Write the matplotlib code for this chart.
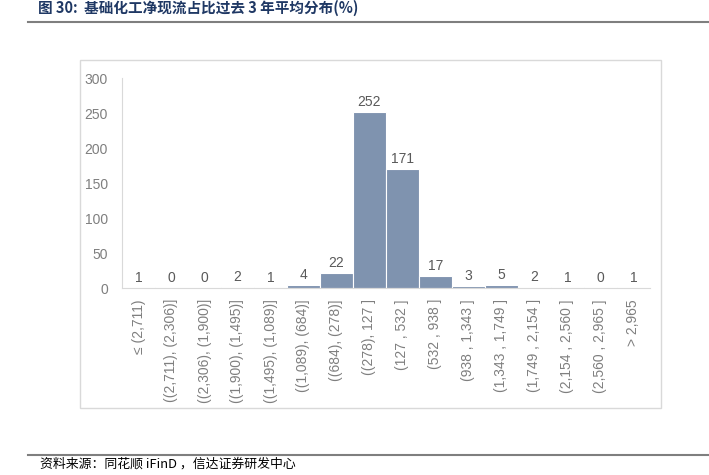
import matplotlib.pyplot as plt
from matplotlib.patches import Rectangle
from matplotlib.lines import Line2D

plt.rcParams['font.family'] = ['Liberation Sans', 'Noto Sans CJK SC', 'DejaVu Sans']

# data
categories = [
    '≤ (2,711)', '((2,711), (2,306)]', '((2,306), (1,900)]', '((1,900), (1,495)]',
    '((1,495), (1,089)]', '((1,089), (684)]', '((684), (278)]', '((278), 127 ]',
    '(127 , 532 ]', '(532 , 938 ]', '(938 , 1,343 ]', '(1,343 , 1,749 ]',
    '(1,749 , 2,154 ]', '(2,154 , 2,560 ]', '(2,560 , 2,965 ]', '> 2,965',
]
counts = [1, 0, 0, 2, 1, 4, 22, 252, 171, 17, 3, 5, 2, 1, 0, 1]
yticks = [0, 50, 100, 150, 200, 250, 300]

title = '图 30:  基础化工净现流占比过去 3 年平均分布(%)'
source = '资料来源：同花顺 iFinD ，信达证券研发中心'

W, H = 709, 475
fig = plt.figure(figsize=(W / 100, H / 100), dpi=100)

# outer chart frame
fig.add_artist(Rectangle((80 / W, 1 - 408 / H), (661 - 80) / W, (408 - 60) / H,
                         transform=fig.transFigure, fill=False,
                         edgecolor='#d9d9d9', linewidth=1))

# title and rules
fig.text(38 / W, 1 - 8 / H, title, fontsize=10.5, fontweight='bold', color='#1f3864',
         ha='left', va='center', family=['Noto Sans CJK SC', 'DejaVu Sans'])
fig.add_artist(Line2D([28 / W, 1], [1 - 22 / H] * 2, transform=fig.transFigure,
                      color='#7f7f7f', linewidth=1.5))
fig.add_artist(Line2D([28 / W, 1], [1 - 455 / H] * 2, transform=fig.transFigure,
                      color='#7f7f7f', linewidth=1.5))
fig.text(40 / W, 1 - 464 / H, source, fontsize=9.3, style='italic', color='#000000',
         ha='left', va='center', family=['Noto Sans CJK SC', 'DejaVu Sans'])

ax = fig.add_axes([122 / W, 1 - 288 / H, (650 - 122) / W, (288 - 78.5) / H])
x = list(range(len(counts)))
ax.bar(x, counts, width=1.0, color='#7f93af', edgecolor='white', linewidth=0.8)

for xi, c in zip(x, counts):
    ax.text(xi, c + 4, str(c), ha='center', va='bottom', fontsize=10, color='#595959')

ax.set_xlim(-0.5, len(counts) - 0.5)
ax.set_ylim(0, 300)
ax.set_yticks(yticks)
ax.tick_params(axis='y', length=0, labelsize=10, labelcolor='#7f7f7f', pad=10)
ax.set_xticks(x)
ax.set_xticklabels(categories, rotation=90, fontsize=10, color='#7f7f7f', va='top')
ax.tick_params(axis='x', length=0, pad=8)

for s in ['top', 'right']:
    ax.spines[s].set_visible(False)
ax.spines['left'].set_color('#d9d9d9')
ax.spines['bottom'].set_color('#d9d9d9')

fig.savefig('out.png', dpi=100)
